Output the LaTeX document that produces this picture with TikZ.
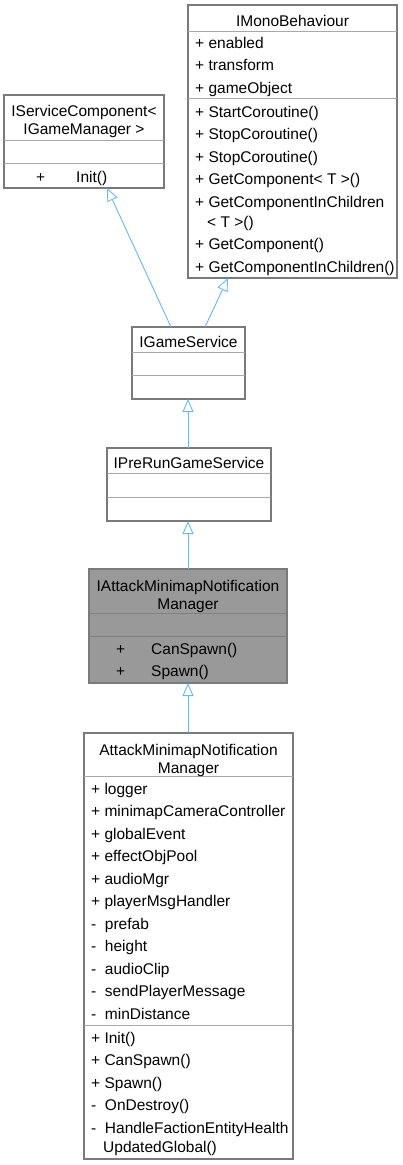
\documentclass[tikz,border=0pt]{standalone}
\usepackage{fontspec}
\setmainfont{Liberation Sans}
\usetikzlibrary{arrows.meta}
\definecolor{edgeblue}{HTML}{63B8FF}
\definecolor{boxline}{HTML}{7A7A7A}
\definecolor{sepline}{HTML}{A8A8A8}
\definecolor{sepdark}{HTML}{808080}
\definecolor{curfill}{HTML}{999999}
\begin{document}
\begin{tikzpicture}[x=1pt,y=-1pt,
  box/.style={draw=boxline,line width=1.1pt,fill=white},
  curbox/.style={draw=boxline,line width=1.1pt,fill=curfill},
  sep/.style={draw=sepline,line width=1pt},
  sepd/.style={draw=sepdark,line width=1pt},
  txt/.style={inner sep=0pt,anchor=base west,font=\fontsize{15.5}{18}\selectfont},
  ctxt/.style={inner sep=0pt,anchor=base,font=\fontsize{15.5}{18}\selectfont},
  inh/.style={draw=edgeblue,line width=0.9pt,-{Triangle[open,length=13pt,width=11pt]}}]
\useasboundingbox (0,0) rectangle (402,1165);

% ---------- IMonoBehaviour ----------
\draw[box] (188,5) rectangle (397,278);
\draw[sep] (188,31) -- (397,31);
\draw[sep] (188,98) -- (397,98);
\node[ctxt] (monoT) at (292.5,26) {IMonoBehaviour};
\node[txt] (m1) at (195,48) {+ enabled};
\node[txt] (m2) at (195,70.5) {+ transform};
\node[txt] (m3) at (195,93) {+ gameObject};
\node[txt] (m4) at (195,117) {+ StartCoroutine()};
\node[txt] (m5) at (195,139.5) {+ StopCoroutine()};
\node[txt] (m6) at (195,162) {+ StopCoroutine()};
\node[txt] (m7) at (195,184.5) {+ GetComponent< T >()};
\node[txt] (m8) at (195,207) {+ GetComponentInChildren};
\node[txt] (m8b) at (207,227) {< T >()};
\node[txt] (m9) at (195,249.5) {+ GetComponent()};
\node[txt] (m10) at (195,272) {+ GetComponentInChildren()};
\coordinate (monoB) at (228,278);

% ---------- IServiceComponent ----------
\draw[box] (4,95) rectangle (164,188);
\draw[sep] (4,140) -- (164,140);
\draw[sep] (4,163) -- (164,163);
\node[ctxt] (scT1) at (84,116) {IServiceComponent<};
\node[ctxt] (scT2) at (84,134) {IGameManager >};
\node[txt] (scP) at (36,182) {+};
\node[txt] (scI) at (76,182) {Init()};
\coordinate (scB) at (107,188);

% ---------- IGameService ----------
\draw[box] (132,327) rectangle (245,399);
\draw[sep] (132,352) -- (245,352);
\draw[sep] (132,375) -- (245,375);
\node[ctxt] (gsT) at (188.5,347) {IGameService};
\coordinate (gsTL) at (171,327);
\coordinate (gsTR) at (205,327);
\coordinate (gsB) at (188,399);

% ---------- IPreRunGameService ----------
\draw[box] (107,448) rectangle (271,521);
\draw[sep] (107,473) -- (271,473);
\draw[sep] (107,497) -- (271,497);
\node[ctxt] (prT) at (189,468) {IPreRunGameService};
\coordinate (prT0) at (188,448);
\coordinate (prB) at (188,521);

% ---------- IAttackMinimapNotificationManager ----------
\draw[curbox] (89,569) rectangle (287,683);
\draw[sepd] (89,613) -- (287,613);
\draw[sepd] (89,636) -- (287,636);
\node[ctxt] (iaT1) at (188,591) {IAttackMinimapNotification};
\node[ctxt] (iaT2) at (188,609) {Manager};
\node[txt] (iaP1) at (116,654) {+};
\node[txt] (iaM1) at (151,654) {CanSpawn()};
\node[txt] (iaP2) at (116,676.5) {+};
\node[txt] (iaM2) at (151,676.5) {Spawn()};
\coordinate (iaT0) at (188,569);
\coordinate (iaB) at (188,683);

% ---------- AttackMinimapNotificationManager ----------
\draw[box] (84,733) rectangle (293,1159);
\draw[sep] (84,776) -- (293,776);
\draw[sep] (84,1025) -- (293,1025);
\node[ctxt] (amT1) at (188.5,755) {AttackMinimapNotification};
\node[ctxt] (amT2) at (188.5,773) {Manager};
\node[txt] (a1) at (91,794) {+ logger};
\node[txt] (a2) at (91,816.5) {+ minimapCameraController};
\node[txt] (a3) at (91,839) {+ globalEvent};
\node[txt] (a4) at (91,861.5) {+ effectObjPool};
\node[txt] (a5) at (91,884) {+ audioMgr};
\node[txt] (a6) at (91,906.5) {+ playerMsgHandler};
\node[txt] (a7) at (91,929) {-\ \ prefab};
\node[txt] (a8) at (91,951.5) {-\ \ height};
\node[txt] (a9) at (91,974) {-\ \ audioClip};
\node[txt] (a10) at (91,996.5) {-\ \ sendPlayerMessage};
\node[txt] (a11) at (91,1019) {-\ \ minDistance};
\node[txt] (b1) at (91,1043) {+ Init()};
\node[txt] (b2) at (91,1065.5) {+ CanSpawn()};
\node[txt] (b3) at (91,1088) {+ Spawn()};
\node[txt] (b4) at (91,1110.5) {-\ \ OnDestroy()};
\node[txt] (b5) at (91,1133) {-\ \ HandleFactionEntityHealth};
\node[txt] (b5b) at (103,1152) {UpdatedGlobal()};
\coordinate (amT0) at (188,733);

% ---------- inheritance edges ----------
\draw[inh] (gsTL) -- (scB);
\draw[inh] (gsTR) -- (monoB);
\draw[inh] (prT0) -- (gsB);
\draw[inh] (iaT0) -- (prB);
\draw[inh] (amT0) -- (iaB);
\end{tikzpicture}
\end{document}
